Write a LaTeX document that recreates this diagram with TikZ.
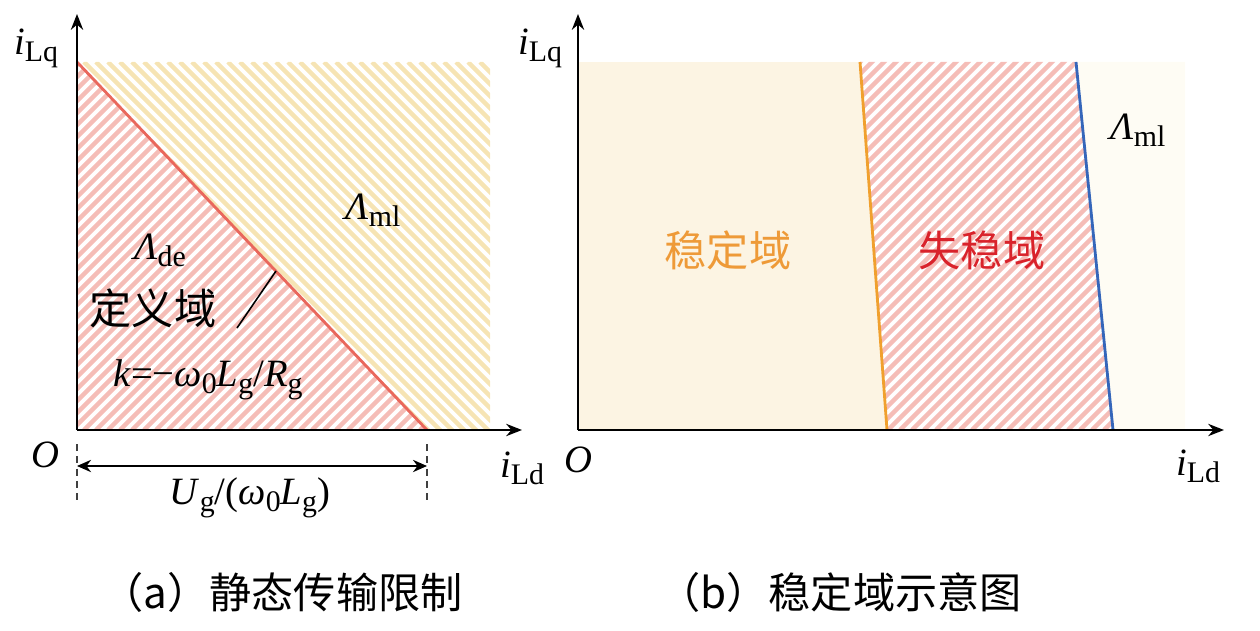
\documentclass[tikz,border=0pt]{standalone}
\usepackage{fontspec}
\setmainfont{Liberation Serif}
\newfontfamily\cjk{Noto Sans CJK SC}
\usetikzlibrary{arrows.meta}

\definecolor{hatchpink}{HTML}{F5BDB7}
\definecolor{hatchyel}{HTML}{F6E4B4}
\definecolor{creamA}{HTML}{FCF4E3}
\definecolor{creamB}{HTML}{FEFCF4}
\definecolor{lineR}{HTML}{E9675C}
\definecolor{lineO}{HTML}{F0A02E}
\definecolor{lineB}{HTML}{3566BA}
\definecolor{txtO}{HTML}{EE9A38}
\definecolor{txtR}{HTML}{D9232B}

\newcommand{\sbs}[1]{\raisebox{-0.4ex}{\fontsize{17}{17}\selectfont #1}}

\begin{document}
\begin{tikzpicture}[x=0.02cm,y=-0.02cm]
 \tikzstyle{axis}   = [-{Stealth[length=9pt,width=7pt]},line width=1.2pt];
 \tikzstyle{dim}    = [{Stealth[length=8pt,width=7pt]}-{Stealth[length=8pt,width=7pt]},line width=1pt];
 \tikzstyle{guide}  = [line width=0.9pt,dash pattern=on 4pt off 3pt,black!75];
 \tikzstyle{lbl}    = [inner sep=0pt,font=\fontsize{22}{24}\selectfont];
 \tikzstyle{cjklbl} = [inner sep=0pt,font=\cjk\fontsize{24}{28}\selectfont];
 \tikzstyle{hatchP} = [line width=2.5pt,draw=hatchpink];
 \tikzstyle{hatchY} = [line width=2.5pt,draw=hatchyel];
 \tikzstyle{bound}  = [line width=1.6pt];

 \useasboundingbox (0,0) rectangle (1260,631);

 %% (a) static transfer limit
 \coordinate (oa) at (77,430);
 \coordinate (qa) at (77,62);
 \coordinate (da) at (427,430);
 \coordinate (ea) at (490,62);
 \coordinate (fa) at (490,430);
 \coordinate (ya) at (77,14);
 \coordinate (xa) at (522,430);

 \begin{scope}
  \clip (qa) -- (ea) -- (fa) -- (da) -- cycle;
  \foreach \a in {-300,-288,...,500} \draw[hatchY] (\a,62) -- ++(380,380);
 \end{scope}
 \begin{scope}
  \clip (qa) -- (da) -- (oa) -- cycle;
  \foreach \a in {-300,-288,...,500} \draw[hatchP] (\a,430) -- ++(380,-380);
 \end{scope}
 \draw[bound,lineR] (qa) -- (da);

 \draw[axis] (oa) -- (ya);
 \draw[axis] (oa) -- (xa);

 \node[lbl] (ilqa) at (36,48) {\textit{i}\sbs{Lq}};
 \node[lbl] (oalbl) at (45,455) {\textit{O}};
 \node[lbl] (ilda) at (522,468) {\textit{i}\sbs{Ld}};
 \node[lbl] (lml) at (373,210) {\textit{Λ}\sbs{ml}};
 \node[lbl] (lde) at (160,250) {\textit{Λ}\sbs{de}};
 \node[cjklbl] (dom) at (153,308) {定义域};
 \node[lbl] (slope) at (208,380) {\textit{k}=−\textit{ω}\sbs{0}\textit{L}\sbs{g}/\textit{R}\sbs{g}};

 \coordinate (s1) at (237,328);
 \coordinate (s2) at (276,271);
 \draw[line width=0.9pt] (s1) -- (s2);

 %% width of the limit
 \coordinate (g1) at (77,444);
 \coordinate (g2) at (77,502);
 \coordinate (g3) at (427,444);
 \coordinate (g4) at (427,502);
 \draw[guide] (g1) -- (g2);
 \draw[guide] (g3) -- (g4);
 \coordinate (w1) at (77,466);
 \coordinate (w2) at (427,466);
 \draw[dim] (w1) -- (w2);
 \node[lbl] (ulim) at (250,498) {\textit{U}\sbs{g}/(\textit{ω}\sbs{0}\textit{L}\sbs{g})};

 %% (b) stability region
 \coordinate (ob) at (578,430);
 \coordinate (qb) at (578,62);
 \coordinate (yb) at (578,14);
 \coordinate (xb) at (1224,430);
 \coordinate (o1) at (860,62);
 \coordinate (o2) at (887,430);
 \coordinate (b1) at (1076,62);
 \coordinate (b2) at (1113,430);
 \coordinate (rb) at (1185,62);
 \coordinate (rc) at (1185,430);

 \fill[creamA] (qb) rectangle (rc);
 \fill[creamB] (b1) -- (rb) -- (rc) -- (b2) -- cycle;
 \fill[white] (o1) -- (b1) -- (b2) -- (o2) -- cycle;
 \begin{scope}
  \clip (o1) -- (b1) -- (b2) -- (o2) -- cycle;
  \foreach \a in {480,492,...,1120} \draw[hatchP] (\a,430) -- ++(380,-380);
 \end{scope}
 \draw[bound,lineO] (o1) -- (o2);
 \draw[bound,lineB] (b1) -- (b2);

 \draw[axis] (ob) -- (yb);
 \draw[axis] (ob) -- (xb);

 \node[lbl] (ilqb) at (540,48) {\textit{i}\sbs{Lq}};
 \node[lbl] (oblbl) at (578,460) {\textit{O}};
 \node[lbl] (ildb) at (1198,466) {\textit{i}\sbs{Ld}};
 \node[lbl] (lmlb) at (1138,130) {\textit{Λ}\sbs{ml}};
 \node[cjklbl,text=txtO] (stab) at (728,250) {稳定域};
 \node[cjklbl,text=txtR] (unstab) at (982,250) {失稳域};

 %% captions
 \node[cjklbl] (capa) at (282,592) {（a）静态传输限制};
 \node[cjklbl] (capb) at (840,592) {（b）稳定域示意图};

\end{tikzpicture}
\end{document}
